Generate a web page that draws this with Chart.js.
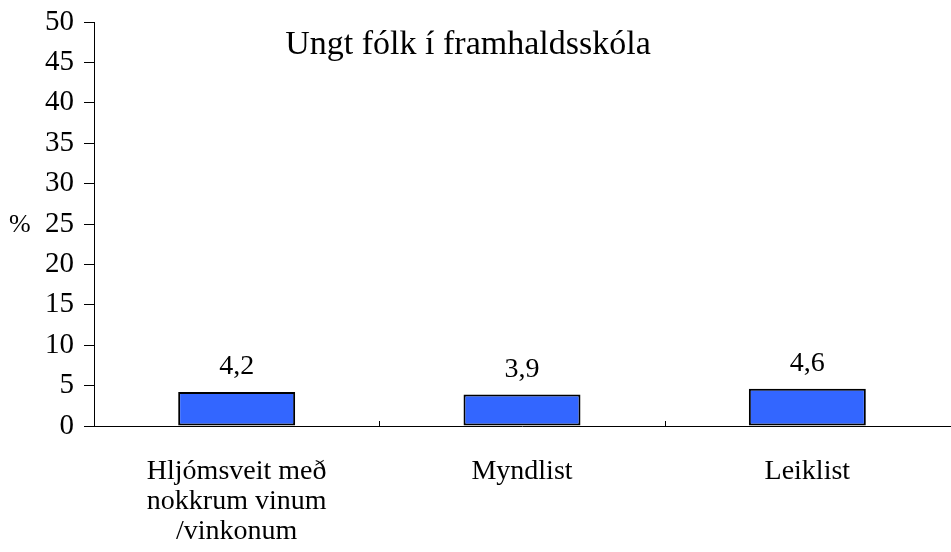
<!DOCTYPE html>
<html>
<head>
<meta charset="utf-8">
<script src="https://cdn.jsdelivr.net/npm/chart.js@4"></script>
<style>
  html, body { margin: 0; padding: 0; background: #fff; }
  #wrap { width: 951px; height: 552px; }
</style>
</head>
<body>
<div id="wrap"><canvas id="myChart"></canvas></div>
<script>
const categories = [['Hljómsveit með', 'nokkrum vinum', '/vinkonum'], 'Myndlist', 'Leiklist'];
const values = [4.2, 3.9, 4.6];
const yTicks = [0, 5, 10, 15, 20, 25, 30, 35, 40, 45, 50];
const chartTitle = 'Ungt fólk í framhaldsskóla';
const yUnit = '%';

const FONT = '"Liberation Serif", "Times New Roman", serif';

// labels, title, % and small inside ticks on the x axis
const extras = {
    id: 'extras',
    afterDatasetsDraw(chart) {
        const ctx = chart.ctx;
        const x = chart.scales.x, y = chart.scales.y;
        ctx.save();
        ctx.fillStyle = '#000';
        ctx.textAlign = 'center';
        ctx.textBaseline = 'bottom';
        ctx.font = '28px ' + FONT;
        chart.getDatasetMeta(0).data.forEach((bar, i) => {
            ctx.fillText(values[i].toFixed(1).replace('.', ','), bar.x, bar.y - 11);
        });
        // title inside the plot
        ctx.font = '34px ' + FONT;
        ctx.textBaseline = 'middle';
        ctx.fillText(chartTitle, 468, y.getPixelForValue(47.1));
        // % next to 25
        ctx.font = '26px ' + FONT;
        ctx.textAlign = 'left';
        ctx.fillText(yUnit, 9, y.getPixelForValue(25) + 1);
        // category separators
        ctx.strokeStyle = '#000';
        ctx.lineWidth = 1;
        for (let i = 0; i < categories.length - 1; i++) {
            const px = Math.round((x.getPixelForValue(i) + x.getPixelForValue(i + 1)) / 2) + 0.5;
            ctx.beginPath();
            ctx.moveTo(px, y.bottom);
            ctx.lineTo(px, y.bottom - 5);
            ctx.stroke();
        }
        ctx.restore();
    }
};

new Chart(document.getElementById('myChart'), {
    type: 'bar',
    data: {
        labels: categories,
        datasets: [{
            data: values,
            backgroundColor: '#3366FF',
            borderColor: '#000',
            borderWidth: 2,
            borderSkipped: false,
            barPercentage: 0.41,
            categoryPercentage: 1
        }]
    },
    options: {
        animation: false,
        responsive: true,
        maintainAspectRatio: false,
        layout: { padding: { top: 22, right: 1 } },
        plugins: {
            legend: { display: false },
            tooltip: { enabled: false }
        },
        scales: {
            x: {
                grid: { display: false, drawTicks: false },
                border: { color: '#000', width: 1 },
                ticks: {
                    color: '#000',
                    padding: 31,
                    maxRotation: 0,
                    autoSkip: false,
                    font: { family: FONT, size: 28, lineHeight: '30px' }
                },
                afterFit(scale) { scale.height = 126; }
            },
            y: {
                min: 0,
                max: 50,
                afterBuildTicks(scale) { scale.ticks = yTicks.map(v => ({ value: v })); },
                grid: { drawOnChartArea: false, tickLength: 10, color: '#000' },
                border: { color: '#000', width: 1 },
                ticks: {
                    color: '#000',
                    padding: 10,
                    font: { family: FONT, size: 29 }
                },
                afterFit(scale) {
                    scale.width = 94;
                    scale.paddingTop = 0;
                    scale.paddingBottom = 0;
                }
            }
        }
    },
    plugins: [extras]
});
</script>
</body>
</html>
